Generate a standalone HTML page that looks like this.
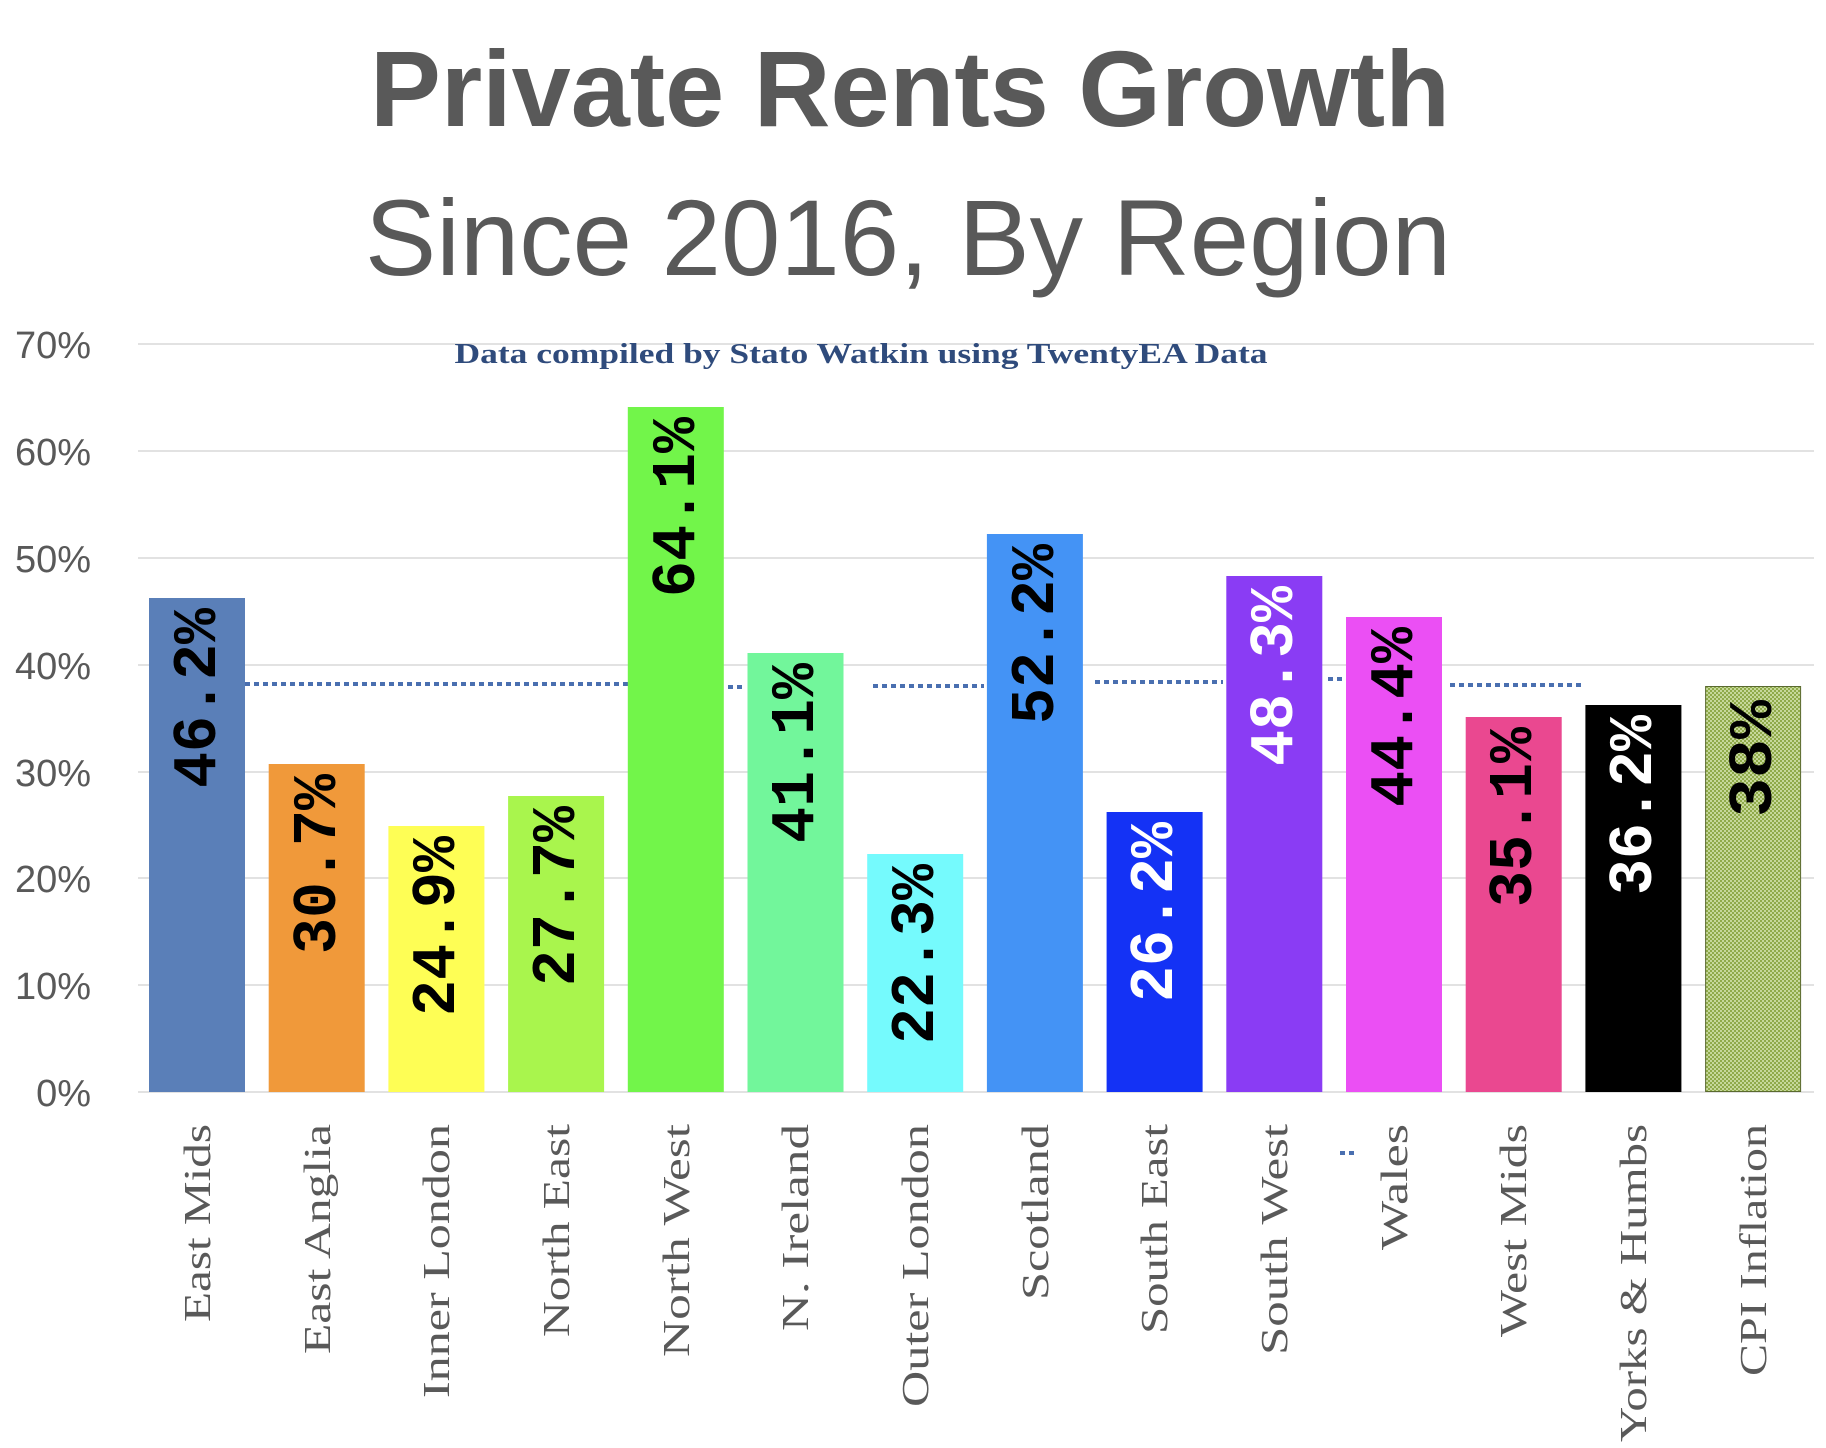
<!DOCTYPE html>
<html><head><meta charset="utf-8"><style>html,body{margin:0;padding:0;background:#fff}svg{display:block}</style></head>
<body>
<svg width="1826" height="1448" viewBox="0 0 1826 1448" xmlns="http://www.w3.org/2000/svg">
<defs>
<pattern id="dots" width="4" height="4" patternUnits="userSpaceOnUse">
<rect width="4" height="4" fill="#c6d89a"/>
<rect width="2" height="2" fill="#8faa4a"/><rect x="2" y="2" width="2" height="2" fill="#8faa4a"/>
</pattern>
</defs>
<text x="910" y="126" text-anchor="middle" font-family="Liberation Sans, sans-serif" font-weight="bold" font-size="108" fill="#595959" textLength="1080" lengthAdjust="spacingAndGlyphs">Private Rents Growth</text>
<text x="908" y="275" text-anchor="middle" font-family="Liberation Sans, sans-serif" font-size="108" fill="#595959" textLength="1086" lengthAdjust="spacingAndGlyphs">Since 2016, By Region</text>
<g stroke="#d9d9d9" stroke-width="1.5">
<line x1="138" x2="1814" y1="344" y2="344"/><line x1="138" x2="1814" y1="451" y2="451"/>
<line x1="138" x2="1814" y1="558" y2="558"/><line x1="138" x2="1814" y1="665" y2="665"/>
<line x1="138" x2="1814" y1="772" y2="772"/><line x1="138" x2="1814" y1="878" y2="878"/>
<line x1="138" x2="1814" y1="985" y2="985"/><line x1="138" x2="1814" y1="1092" y2="1092"/>
</g>
<text x="861" y="363" text-anchor="middle" font-family="Liberation Serif, serif" font-weight="bold" font-size="28" fill="#2f4b7c" textLength="813" lengthAdjust="spacingAndGlyphs">Data compiled by Stato Watkin using TwentyEA Data</text>
<g font-family="Liberation Sans, sans-serif" font-size="38" fill="#595959" text-anchor="end">
<text x="91" y="358">70%</text><text x="91" y="465">60%</text><text x="91" y="572">50%</text>
<text x="91" y="679">40%</text><text x="91" y="786">30%</text><text x="91" y="892">20%</text>
<text x="91" y="999">10%</text><text x="91" y="1106">0%</text>
</g>
<g stroke="#4a6fb0" stroke-width="4" stroke-dasharray="5,4">
<line x1="245" x2="629" y1="684" y2="684"/><line x1="728" x2="745" y1="687" y2="687"/>
<line x1="873" x2="984" y1="686" y2="686"/><line x1="1095" x2="1223" y1="682" y2="682"/>
<line x1="1328" x2="1345" y1="679" y2="679"/><line x1="1450" x2="1584" y1="685" y2="685"/>
<line x1="1340" x2="1354" y1="1153" y2="1153"/>
</g>
<g>
<rect x="149" y="598" width="96" height="494" fill="#5a7fb8"/>
<rect x="268.7" y="764" width="96" height="328" fill="#f0993a"/>
<rect x="388.4" y="826" width="96" height="266" fill="#fefe55"/>
<rect x="508.1" y="796" width="96" height="296" fill="#a9f54d"/>
<rect x="627.8" y="407" width="96" height="685" fill="#72f54a"/>
<rect x="747.5" y="653" width="96" height="439" fill="#72f69b"/>
<rect x="867.2" y="854" width="96" height="238" fill="#75fafd"/>
<rect x="986.9" y="534" width="96" height="558" fill="#4493f5"/>
<rect x="1106.6" y="812" width="96" height="280" fill="#1432f5"/>
<rect x="1226.3" y="576" width="96" height="516" fill="#8a3cf4"/>
<rect x="1346" y="617" width="96" height="475" fill="#eb4ff4"/>
<rect x="1465.7" y="717" width="96" height="375" fill="#ea4890"/>
<rect x="1585.4" y="705" width="96" height="387" fill="#000"/>
<rect x="1705.6" y="686.5" width="95" height="405" fill="url(#dots)" stroke="#5a6a30" stroke-width="1"/>
</g>
<g font-family="Liberation Mono, monospace" font-weight="bold" font-size="62" text-anchor="end">
<text transform="translate(215,608) rotate(-90)" textLength="180" lengthAdjust="spacingAndGlyphs" fill="#000">46.2%</text>
<text transform="translate(335,774) rotate(-90)" textLength="180" lengthAdjust="spacingAndGlyphs" fill="#000">30.7%</text>
<text transform="translate(454,836) rotate(-90)" textLength="180" lengthAdjust="spacingAndGlyphs" fill="#000">24.9%</text>
<text transform="translate(574,806) rotate(-90)" textLength="180" lengthAdjust="spacingAndGlyphs" fill="#000">27.7%</text>
<text transform="translate(694,417) rotate(-90)" textLength="180" lengthAdjust="spacingAndGlyphs" fill="#000">64.1%</text>
<text transform="translate(813,663) rotate(-90)" textLength="180" lengthAdjust="spacingAndGlyphs" fill="#000">41.1%</text>
<text transform="translate(933,864) rotate(-90)" textLength="180" lengthAdjust="spacingAndGlyphs" fill="#000">22.3%</text>
<text transform="translate(1053,544) rotate(-90)" textLength="180" lengthAdjust="spacingAndGlyphs" fill="#000">52.2%</text>
<text transform="translate(1172,822) rotate(-90)" textLength="180" lengthAdjust="spacingAndGlyphs" fill="#fff">26.2%</text>
<text transform="translate(1292,586) rotate(-90)" textLength="180" lengthAdjust="spacingAndGlyphs" fill="#fff">48.3%</text>
<text transform="translate(1412,627) rotate(-90)" textLength="180" lengthAdjust="spacingAndGlyphs" fill="#000">44.4%</text>
<text transform="translate(1531,727) rotate(-90)" textLength="180" lengthAdjust="spacingAndGlyphs" fill="#000">35.1%</text>
<text transform="translate(1651,715) rotate(-90)" textLength="180" lengthAdjust="spacingAndGlyphs" fill="#fff">36.2%</text>
<text transform="translate(1771,700) rotate(-90)" textLength="117" lengthAdjust="spacingAndGlyphs" fill="#000">38%</text>
</g>
<g font-family="Liberation Serif, serif" font-size="38" fill="#595959" text-anchor="end">
<text transform="translate(210,1124) rotate(-90)" textLength="198" lengthAdjust="spacingAndGlyphs">East Mids</text>
<text transform="translate(330,1124) rotate(-90)" textLength="230" lengthAdjust="spacingAndGlyphs">East Anglia</text>
<text transform="translate(449,1124) rotate(-90)" textLength="274" lengthAdjust="spacingAndGlyphs">Inner London</text>
<text transform="translate(569,1124) rotate(-90)" textLength="213" lengthAdjust="spacingAndGlyphs">North East</text>
<text transform="translate(689,1124) rotate(-90)" textLength="233" lengthAdjust="spacingAndGlyphs">North West</text>
<text transform="translate(808,1124) rotate(-90)" textLength="207" lengthAdjust="spacingAndGlyphs">N. Ireland</text>
<text transform="translate(928,1124) rotate(-90)" textLength="283" lengthAdjust="spacingAndGlyphs">Outer London</text>
<text transform="translate(1048,1124) rotate(-90)" textLength="176" lengthAdjust="spacingAndGlyphs">Scotland</text>
<text transform="translate(1167,1124) rotate(-90)" textLength="210" lengthAdjust="spacingAndGlyphs">South East</text>
<text transform="translate(1287,1124) rotate(-90)" textLength="231" lengthAdjust="spacingAndGlyphs">South West</text>
<text transform="translate(1407,1124) rotate(-90)" textLength="126" lengthAdjust="spacingAndGlyphs">Wales</text>
<text transform="translate(1526,1124) rotate(-90)" textLength="213" lengthAdjust="spacingAndGlyphs">West Mids</text>
<text transform="translate(1646,1124) rotate(-90)" textLength="318" lengthAdjust="spacingAndGlyphs">Yorks &amp; Humbs</text>
<text transform="translate(1766,1124) rotate(-90)" textLength="252" lengthAdjust="spacingAndGlyphs">CPI Inflation</text>
</g>
</svg>
</body></html>
